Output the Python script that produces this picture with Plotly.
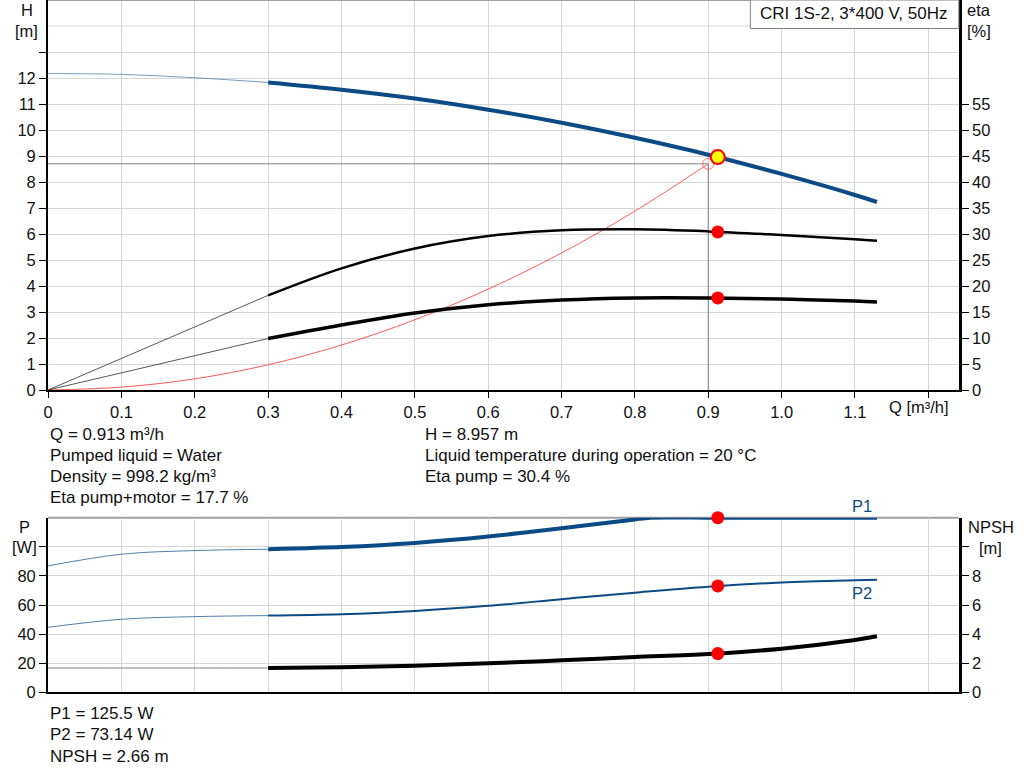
import plotly.graph_objects as go

W, HP = 1024, 781
FIG_H = 790  # page height that the capture squeezes back to 781
FONT = "Liberation Sans, Arial, sans-serif"
BLUE = "#0b4a85"
GRID = "#d6d6d6"

# ---------------- data ----------------
title_text = "CRI 1S-2, 3*400 V, 50Hz"

q_thin = [0.0, 0.1, 0.2, 0.3]
q_main = [0.3, 0.4, 0.5, 0.6, 0.7, 0.8, 0.9, 1.0, 1.1, 1.13]

head_thin = [12.17, 12.14, 12.01, 11.83]
head_main = [11.83, 11.55, 11.21, 10.78, 10.28, 9.70, 9.05, 8.31, 7.50, 7.23]

eta_pump_thin_q = [0.0, 0.3]
eta_pump_thin = [0.0, 18.2]
eta_pump_main = [18.2, 23.4, 27.2, 29.6, 30.7, 30.9, 30.5, 29.8, 29.0, 28.7]

eta_total_thin_q = [0.0, 0.3]
eta_total_thin = [0.0, 9.9]
eta_total_main = [9.9, 12.5, 14.8, 16.4, 17.3, 17.7, 17.7, 17.5, 17.1, 16.9]

system_q = [0.0, 0.1, 0.2, 0.3, 0.4, 0.5, 0.6, 0.7, 0.8, 0.9]
system_h = [0.0, 0.11, 0.43, 0.97, 1.73, 2.70, 3.88, 5.27, 6.88, 8.70]

p1_thin = [86.9, 94.9, 97.4, 98.3]
p1_main_q = [0.3, 0.4, 0.5, 0.6, 0.7, 0.8, 0.82, 0.9, 1.0, 1.1, 1.13]
p1_main = [98.3, 99.8, 102.6, 107.0, 112.8, 118.8, 120.0, 120.0, 120.0, 120.0, 120.0]

p2_thin = [44.7, 50.2, 52.0, 52.7]
p2_main = [52.7, 53.6, 55.9, 59.4, 64.0, 68.5, 72.6, 75.5, 77.0, 77.3]

npsh_thin = [1.67, 1.67, 1.67, 1.67]
npsh_main = [1.67, 1.72, 1.83, 1.99, 2.20, 2.42, 2.63, 3.00, 3.60, 3.85]

# operating / duty point
op_q, op_h = 0.913, 8.957
op_eta_pump, op_eta_total = 30.4, 17.7
op_p1, op_p2, op_npsh = 125.5, 73.14, 2.66
duty_q, duty_h = 0.9, 8.7

x_ticks = [0.0, 0.1, 0.2, 0.3, 0.4, 0.5, 0.6, 0.7, 0.8, 0.9, 1.0, 1.1, 1.2]
x_labels = ["0", "0.1", "0.2", "0.3", "0.4", "0.5", "0.6", "0.7", "0.8", "0.9", "1.0", "1.1", ""]
h_ticks = list(range(0, 14))
h_labels = [str(v) for v in range(0, 13)] + [""]
eta_ticks = list(range(0, 60, 5))
p_ticks = [0, 20, 40, 60, 80, 100]
p_labels = ["0", "20", "40", "60", "80", ""]
npsh_ticks = [0, 2, 4, 6, 8, 10]
npsh_labels = ["0", "2", "4", "6", "8", ""]

info_top_left = ["Q = 0.913 m³/h", "Pumped liquid = Water", "Density = 998.2 kg/m³", "Eta pump+motor = 17.7 %"]
info_top_right = ["H = 8.957 m", "Liquid temperature during operation = 20 °C", "Eta pump = 30.4 %"]
info_bottom = ["P1 = 125.5 W", "P2 = 73.14 W", "NPSH = 2.66 m"]

X_MAX = 1.2416
H_MAX = 15
ETA_MAX = 75
P_MAX = 120
NPSH_MAX = 12

# ---------------- layout geometry (in reference pixels) ----------------
def px(x):
    return x / W

def py(y):
    return 1 - y / HP

X_DOM = [px(43.3), px(958.5)]
TOP_DOM = [py(390), 1.0]
BOT_DOM = [py(692.3), py(517.7)]

fig = go.Figure()

def line(x, y, xa, ya, color, width, opacity=1.0, smooth=1.0):
    fig.add_trace(go.Scatter(x=x, y=y, xaxis=xa, yaxis=ya, mode="lines",
                             line=dict(color=color, width=width, shape="spline", smoothing=smooth),
                             opacity=opacity, hoverinfo="skip", showlegend=False))

# top panel
fig.add_trace(go.Scatter(x=[0, duty_q, duty_q], y=[duty_h, duty_h, 0], xaxis="x", yaxis="y",
                         mode="lines", line=dict(color="#808080", width=1), hoverinfo="skip", showlegend=False))
line(system_q, system_h, "x", "y", "#ff3030", 1, 0.8)
line(q_thin, head_thin, "x", "y", BLUE, 1, 0.55)
line(q_main, head_main, "x", "y", BLUE, 4)
line(eta_pump_thin_q, eta_pump_thin, "x", "y3", "#303030", 1, 0.8)
line(q_main, eta_pump_main, "x", "y3", "black", 2.5)
line(eta_total_thin_q, eta_total_thin, "x", "y3", "#303030", 1, 0.8)
line(q_main, eta_total_main, "x", "y3", "black", 3.5)

fig.add_trace(go.Scatter(x=[duty_q], y=[duty_h], xaxis="x", yaxis="y", mode="markers",
                         marker=dict(size=11, color="rgba(0,0,0,0)", line=dict(color="rgba(255,60,60,0.7)", width=1)),
                         hoverinfo="skip", showlegend=False))
fig.add_trace(go.Scatter(x=[op_q, op_q], y=[op_eta_pump, op_eta_total], xaxis="x", yaxis="y3", mode="markers",
                         marker=dict(size=13, color="#ff0000"), hoverinfo="skip", showlegend=False))
fig.add_trace(go.Scatter(x=[op_q], y=[op_h], xaxis="x", yaxis="y", mode="markers",
                         marker=dict(size=14, color="#ffff00", line=dict(color="#ff0000", width=2)),
                         hoverinfo="skip", showlegend=False))

# bottom panel
line(q_thin, p1_thin, "x2", "y2", BLUE, 1, 0.7)
line(p1_main_q, p1_main, "x2", "y2", BLUE, 4, 1.0, 0.6)
line(q_thin, p2_thin, "x2", "y2", BLUE, 1, 0.7)
line(q_main, p2_main, "x2", "y2", BLUE, 2)
line(q_thin, npsh_thin, "x2", "y4", "#808080", 1)
line(q_main, npsh_main, "x2", "y4", "black", 4)
fig.add_trace(go.Scatter(x=[op_q, op_q], y=[min(op_p1, P_MAX), op_p2], xaxis="x2", yaxis="y2", mode="markers",
                         marker=dict(size=13, color="#ff0000"), cliponaxis=False, hoverinfo="skip", showlegend=False))
fig.add_trace(go.Scatter(x=[op_q], y=[op_npsh], xaxis="x2", yaxis="y4", mode="markers",
                         marker=dict(size=13, color="#ff0000"), hoverinfo="skip", showlegend=False))

TS = 16.5
INFO = 17
tickfont = dict(family=FONT, size=TS, color="#111")
common_x = dict(range=[0, X_MAX], domain=X_DOM, tickvals=x_ticks, showgrid=True, gridcolor=GRID, gridwidth=1,
                zeroline=False, showline=True, linecolor="black", linewidth=2, tickfont=tickfont, fixedrange=True)

fig.update_layout(
    width=W, height=FIG_H, margin=dict(l=0, r=0, t=0, b=0),
    paper_bgcolor="white", plot_bgcolor="white", showlegend=False,
    font=dict(family=FONT, size=TS, color="#111"),
    xaxis=dict(**common_x, anchor="y", ticktext=x_labels, ticks="outside", ticklen=6, tickcolor="black"),
    xaxis2=dict(**common_x, anchor="y2", ticktext=[""] * len(x_ticks), showticklabels=False, ticks=""),
    yaxis=dict(domain=TOP_DOM, range=[0, H_MAX], anchor="x", tickvals=h_ticks, ticktext=h_labels,
               ticks="outside", ticklen=7, tickcolor="black", showline=True, linecolor="black", linewidth=2,
               showgrid=True, gridcolor=GRID, zeroline=False, tickfont=tickfont),
    yaxis3=dict(overlaying="y", side="right", anchor="x", range=[0, ETA_MAX], tickvals=eta_ticks,
                ticks="outside", ticklen=7, tickcolor="black", showline=True, linecolor="black", linewidth=3,
                showgrid=False, zeroline=False, tickfont=tickfont),
    yaxis2=dict(domain=BOT_DOM, range=[0, P_MAX], anchor="x2", tickvals=p_ticks, ticktext=p_labels,
                ticks="outside", ticklen=7, tickcolor="black", showline=True, linecolor="black", linewidth=2,
                showgrid=True, gridcolor=GRID, zeroline=False, tickfont=tickfont),
    yaxis4=dict(overlaying="y2", side="right", anchor="x2", range=[0, NPSH_MAX], tickvals=npsh_ticks,
                ticktext=npsh_labels, ticks="outside", ticklen=7, tickcolor="black", showline=True,
                linecolor="black", linewidth=3, showgrid=False, zeroline=False, tickfont=tickfont),
)

shapes = [
    dict(type="line", xref="paper", yref="y", x0=X_DOM[0], x1=X_DOM[1], y0=14, y1=14,
         line=dict(color=GRID, width=1), layer="below"),
    dict(type="line", xref="paper", yref="paper", x0=X_DOM[0], x1=X_DOM[1], y0=TOP_DOM[1], y1=TOP_DOM[1],
         line=dict(color="#a0a0a0", width=2)),
    dict(type="line", xref="paper", yref="paper", x0=X_DOM[0], x1=X_DOM[1], y0=BOT_DOM[1], y1=BOT_DOM[1],
         line=dict(color="#a0a0a0", width=2), layer="below"),
    dict(type="rect", xref="paper", yref="paper", x0=px(749), x1=X_DOM[1], y0=py(28.5), y1=1.0,
         line=dict(color="#808080", width=1), fillcolor="white"),
]
fig.update_layout(shapes=shapes)

ann = []
def text(s, x, y, anchor="left", color="#111", size=TS):
    ann.append(dict(text=s, x=px(x), y=py(y), xref="paper", yref="paper", xanchor=anchor, yanchor="middle",
                    showarrow=False, borderpad=0, font=dict(family=FONT, size=size, color=color)))

text(title_text, 853, 14, "center", size=INFO)
text("H", 22, 10, "center")
text("[m]", 22, 31, "center")
text("eta", 979, 10, "center")
text("[%]", 979, 31, "center")
text("Q [m³/h]", 918, 407, "center")
text("P", 20, 527, "center")
text("[W]", 20, 547, "center")
text("NPSH", 990.5, 527, "center")
text("[m]", 990.5, 548, "center")
text("P1", 861, 506, "center", BLUE)
text("P2", 861, 593, "center", BLUE)
for i, s in enumerate(info_top_left):
    text(s, 44, 434 + i * 21.3, size=INFO)
for i, s in enumerate(info_top_right):
    text(s, 421, 434 + i * 21.3, size=INFO)
for i, s in enumerate(info_bottom):
    text(s, 44, 713.5 + i * 21.3, size=INFO)
fig.update_layout(annotations=ann)

fig.write_html(
    "out.html",
    config={"displayModeBar": False},
    post_script=("document.documentElement.style.margin='0';document.body.style.margin='0';"
                 "document.documentElement.style.overflow='hidden';document.body.style.overflow='hidden';"),
)
